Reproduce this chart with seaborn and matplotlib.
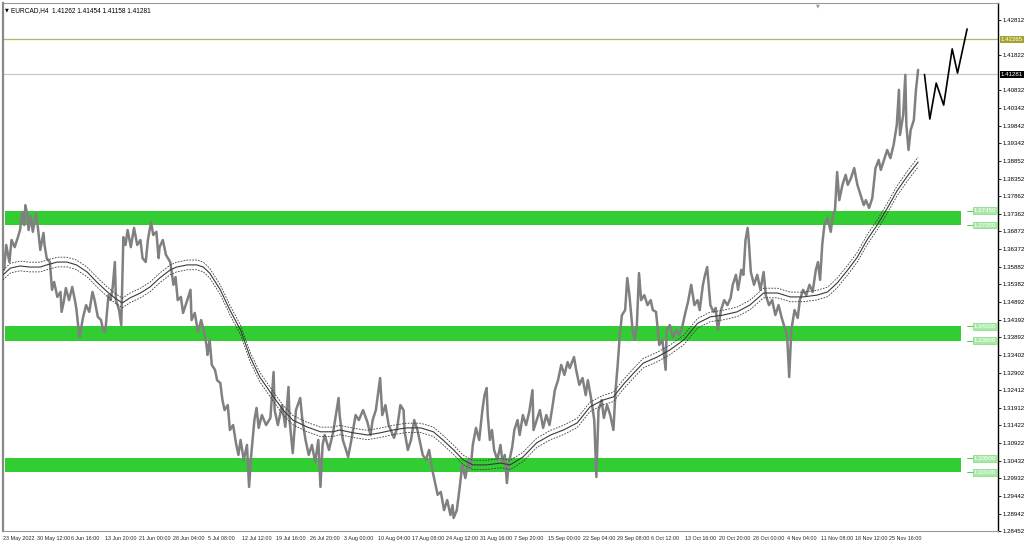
import seaborn as sns
import numpy as np
import matplotlib.pyplot as plt
from matplotlib.transforms import blended_transform_factory

# price path (bar index, price)
path_bar = [1, 3, 6, 8, 11, 14, 16, 18, 20, 21, 23, 24, 26, 28, 31, 33, 35, 38, 39, 41,
            44, 46, 48, 51, 54, 55, 57, 59, 62, 65, 68, 69, 71, 72, 75, 78, 81, 84, 86, 89,
            92, 94, 96, 99, 101, 103, 105, 106, 109, 111, 113, 115, 117, 120, 123, 126, 129, 131, 134, 136,
            139, 141, 144, 146, 147, 150, 153, 157, 160, 162, 164, 167, 169, 173, 176, 177, 180, 183, 186, 189,
            191, 192, 194, 196, 199, 201, 204, 206, 208, 211, 213, 216, 219, 221, 223, 226, 229, 231, 233, 236,
            238, 240, 243, 247, 251, 254, 255, 258, 262, 265, 268, 269, 272, 275, 279, 281, 284, 287, 290, 293,
            296, 298, 300, 302, 306, 310, 314, 315, 316, 319, 322, 324, 327, 331, 334, 338, 342, 345, 347, 350,
            354, 356, 359, 362, 364, 367, 370, 373, 376, 377, 380, 383, 386, 389, 392, 394, 397, 400, 403, 406,
            408, 411, 414, 417, 420, 422, 423, 426, 429, 431, 434, 437, 439, 441, 444, 447, 450, 452, 454, 455,
            457, 459, 461, 464, 467, 469, 471, 473, 475, 478, 480, 483, 485, 488, 491, 494, 497, 498, 501, 504,
            507, 510, 513, 516, 518, 521, 524, 527, 530, 532, 536, 538, 541, 544, 547, 549, 552, 555, 557, 559,
            562, 564, 567, 570, 573, 575, 577, 579, 581, 584, 586, 588, 591, 593, 595, 597, 599, 602, 605, 608,
            610, 613, 616, 619, 622, 623, 626, 629, 632, 635, 638, 640, 643, 646, 649, 652, 654, 657, 659, 661,
            664, 667, 669, 671, 674, 677, 680, 683, 685, 688, 690, 693, 695, 697, 699, 700, 702, 705, 708, 711,
            714, 716, 719, 722, 725, 728, 731, 733, 736, 738, 740, 743, 746, 748, 751, 754, 757, 760, 763, 765,
            767, 769, 771, 774, 777, 779, 781, 783, 785, 788, 791, 793, 796, 799, 802, 805, 808, 810, 813, 816,
            819, 822, 824, 827, 830, 833, 836, 839, 841, 842, 845, 847, 848, 850, 852, 855, 857, 859]
path_price = [1.3579, 1.3649, 1.3601, 1.3663, 1.3643, 1.3671, 1.3691, 1.3742, 1.3705, 1.3761,
              1.3733, 1.3691, 1.3730, 1.3686, 1.3739, 1.3691, 1.3635, 1.3683, 1.3649, 1.3612,
              1.3601, 1.3523, 1.3545, 1.3503, 1.3517, 1.3461, 1.3489, 1.3528, 1.3494, 1.3531,
              1.3486, 1.3466, 1.3410, 1.3390, 1.3444, 1.3480, 1.3461, 1.3517, 1.3494, 1.3447,
              1.3438, 1.3410, 1.3405, 1.3508, 1.3494, 1.3531, 1.3601, 1.3494, 1.3466, 1.3424,
              1.3671, 1.3649, 1.3691, 1.3643, 1.3697, 1.3649, 1.3663, 1.3612, 1.3601, 1.3663,
              1.3714, 1.3677, 1.3686, 1.3612, 1.3643, 1.3663, 1.3621, 1.3601, 1.3537, 1.3559,
              1.3494, 1.3503, 1.3458, 1.3494, 1.3523, 1.3438, 1.3458, 1.3405, 1.3438, 1.3402,
              1.3368, 1.3340, 1.3382, 1.3312, 1.3298, 1.3269, 1.3261, 1.3213, 1.3185, 1.3199,
              1.3129, 1.3143, 1.3087, 1.3059, 1.3101, 1.3045, 1.3087, 1.2969, 1.3059, 1.3157,
              1.3191, 1.3135, 1.3171, 1.3143, 1.3163, 1.3292, 1.3185, 1.3143, 1.3199, 1.3138,
              1.3250, 1.3157, 1.3064, 1.3185, 1.3219, 1.3157, 1.3101, 1.3059, 1.3087, 1.3039,
              1.3101, 1.2969, 1.3087, 1.3115, 1.3073, 1.3124, 1.3199, 1.3219, 1.3171, 1.3101,
              1.3073, 1.3053, 1.3101, 1.3171, 1.3157, 1.3185, 1.3152, 1.3115, 1.3157, 1.3185,
              1.3275, 1.3171, 1.3199, 1.3143, 1.3129, 1.3107, 1.3135, 1.3199, 1.3185, 1.3124,
              1.3073, 1.3101, 1.3157, 1.3129, 1.3087, 1.3059, 1.3045, 1.3073, 1.3017, 1.2975,
              1.2947, 1.2955, 1.2904, 1.2932, 1.2890, 1.2918, 1.2882, 1.2904, 1.2975, 1.3031,
              1.2994, 1.3045, 1.3022, 1.3087, 1.3135, 1.3101, 1.3185, 1.3227, 1.3247, 1.3171,
              1.3101, 1.3129, 1.3073, 1.3045, 1.3087, 1.3036, 1.3059, 1.2980, 1.3039, 1.3081,
              1.3129, 1.3157, 1.3115, 1.3171, 1.3143, 1.3180, 1.3241, 1.3129, 1.3157, 1.3185,
              1.3135, 1.3171, 1.3143, 1.3199, 1.3241, 1.3269, 1.3312, 1.3284, 1.3320, 1.3303,
              1.3334, 1.3298, 1.3256, 1.3275, 1.3227, 1.3269, 1.3219, 1.3157, 1.2997, 1.3185,
              1.3213, 1.3163, 1.3199, 1.3171, 1.3129, 1.3241, 1.3312, 1.3396, 1.3452, 1.3466,
              1.3556, 1.3508, 1.3410, 1.3382, 1.3424, 1.3570, 1.3494, 1.3508, 1.3480, 1.3494,
              1.3466, 1.3461, 1.3368, 1.3382, 1.3298, 1.3410, 1.3424, 1.3388, 1.3410, 1.3396,
              1.3424, 1.3452, 1.3489, 1.3537, 1.3480, 1.3494, 1.3466, 1.3537, 1.3565, 1.3587,
              1.3480, 1.3461, 1.3472, 1.3410, 1.3466, 1.3494, 1.3480, 1.3500, 1.3537, 1.3565,
              1.3523, 1.3579, 1.3565, 1.3663, 1.3697, 1.3663, 1.3573, 1.3537, 1.3565, 1.3523,
              1.3573, 1.3508, 1.3480, 1.3494, 1.3452, 1.3480, 1.3444, 1.3424, 1.3396, 1.3278,
              1.3410, 1.3466, 1.3444, 1.3494, 1.3523, 1.3508, 1.3537, 1.3517, 1.3579, 1.3601,
              1.3551, 1.3649, 1.3705, 1.3725, 1.3686, 1.3733, 1.3747, 1.3854, 1.3775, 1.3818,
              1.3846, 1.3818, 1.3837, 1.3865, 1.3818, 1.3789, 1.3761, 1.3775, 1.3753, 1.3781,
              1.3865, 1.3888, 1.3860, 1.3888, 1.3916, 1.3893, 1.3930, 1.3986, 1.4085, 1.3958,
              1.4014, 1.4127, 1.3986, 1.3916, 1.3972, 1.4000, 1.4085, 1.4141]

# moving average centre line
ma_bar = [0, 7, 16, 25, 35, 41, 51, 60, 69, 79, 88, 98, 105, 112, 119, 129, 138, 147, 157, 163,
          173, 182, 188, 194, 204, 213, 223, 232, 241, 254, 263, 272, 285, 298, 310, 316, 329, 342, 354, 366,
          379, 392, 404, 413, 423, 432, 441, 454, 467, 476, 488, 501, 514, 526, 539, 551, 563, 573, 582, 592,
          601, 614, 626, 639, 652, 664, 676, 689, 701, 714, 727, 739, 751, 764, 774, 783, 793, 802, 811, 821,
          830, 839, 849, 859]
ma_price = [1.3565, 1.3584, 1.3590, 1.3587, 1.3587, 1.3593, 1.3601, 1.3601, 1.3593, 1.3573,
            1.3545, 1.3517, 1.3500, 1.3486, 1.3500, 1.3514, 1.3531, 1.3556, 1.3579, 1.3587,
            1.3593, 1.3593, 1.3587, 1.3570, 1.3523, 1.3466, 1.3410, 1.3334, 1.3278, 1.3222,
            1.3185, 1.3157, 1.3138, 1.3124, 1.3124, 1.3129, 1.3121, 1.3115, 1.3121, 1.3129,
            1.3135, 1.3135, 1.3124, 1.3101, 1.3073, 1.3045, 1.3031, 1.3031, 1.3036, 1.3031,
            1.3053, 1.3093, 1.3115, 1.3129, 1.3149, 1.3194, 1.3213, 1.3222, 1.3256, 1.3289,
            1.3317, 1.3334, 1.3354, 1.3382, 1.3429, 1.3447, 1.3452, 1.3461, 1.3480, 1.3514,
            1.3514, 1.3503, 1.3503, 1.3508, 1.3517, 1.3542, 1.3579, 1.3615, 1.3663, 1.3707,
            1.3752, 1.3800, 1.3843, 1.3882]
envelope_pct = 0.001

# projected path (black zigzag)
proj_bar = [865, 870, 876, 883, 891, 896, 905]
proj_price = [1.4128, 1.4003, 1.4104, 1.4042, 1.4200, 1.4132, 1.4256]

# support / resistance zones
zones = [(1.37450, 1.37050), (1.34200, 1.33800), (1.30500, 1.30100)]
zone_start, zone_end = 2, 899

level_olive = 1.42265
level_last = 1.41281

y_ticks = [1.42812, 1.41822, 1.40832, 1.40342, 1.39842, 1.39342, 1.38852, 1.38352,
           1.37862, 1.37362, 1.36872, 1.36372, 1.35882, 1.35382, 1.34892, 1.34392,
           1.33892, 1.33402, 1.32902, 1.32412, 1.31912, 1.31422, 1.30922, 1.30432,
           1.29932, 1.29442, 1.28942, 1.28452]

x_labels = ['23 May 2022', '30 May 12:00', '6 Jun 16:00', '13 Jun 20:00', '21 Jun 00:00',
            '28 Jun 04:00', '5 Jul 08:00', '12 Jul 12:00', '19 Jul 16:00', '26 Jul 20:00',
            '3 Aug 00:00', '10 Aug 04:00', '17 Aug 08:00', '24 Aug 12:00', '31 Aug 16:00',
            '7 Sep 20:00', '15 Sep 00:00', '22 Sep 04:00', '29 Sep 08:00', '6 Oct 12:00',
            '13 Oct 16:00', '20 Oct 20:00', '28 Oct 00:00', '4 Nov 04:00', '11 Nov 08:00',
            '18 Nov 12:00', '25 Nov 16:00']
bars_per_label = 32

header = 'EURCAD,H4  1.41262 1.41454 1.41158 1.41281'

sns.set_style('white')
plt.rcParams['font.family'] = ['Liberation Sans Narrow', 'Liberation Sans', 'DejaVu Sans']
FS = 4.4

fig = plt.figure(figsize=(10.24, 5.44), dpi=100)
ax = fig.add_axes([3 / 1024, 13 / 544, 995 / 1024, 528 / 544])

# zones
for hi, lo in zones:
    ax.fill_between([zone_start, zone_end], lo, hi, color='#32cd32', lw=0, zorder=1)

ax.axhline(level_olive, color='#b5b56a', lw=0.9, zorder=1)
ax.axhline(level_last, color='#c8c8c8', lw=0.9, zorder=1)

# moving average + envelope
ma_bar_a = np.array(ma_bar)
ma_price_a = np.array(ma_price)
sns.lineplot(x=ma_bar_a, y=ma_price_a, color='#3a3a3a', lw=0.8, ax=ax, zorder=3)
for k in (1 + envelope_pct, 1 - envelope_pct):
    ax.plot(ma_bar_a, ma_price_a * k, color='#3a3a3a', lw=0.6, ls=(0, (2, 1.5)), zorder=3)

# price
sns.lineplot(x=path_bar, y=path_price, sort=False, estimator=None,
             color='#808080', lw=1.8, ax=ax, zorder=2)

# projection
sns.lineplot(x=proj_bar, y=proj_price, sort=False, estimator=None,
             color='black', lw=1.2, ax=ax, zorder=4)

ax.set_xlim(0, 934)
ax.set_ylim(1.28452, 1.43290)
ax.set_xlabel('')
ax.set_ylabel('')

# right price axis
ax.yaxis.tick_right()
ax.set_yticks(y_ticks)
ax.set_yticklabels([f'{v:.5f}' for v in y_ticks])
ax.tick_params(axis='y', labelsize=FS, length=2, width=0.6, pad=1.5, colors='black')

# bottom time axis
xt = [i * bars_per_label for i in range(len(x_labels))]
ax.set_xticks(xt)
ax.set_xticklabels(x_labels, ha='left')
ax.tick_params(axis='x', labelsize=3.9, length=2.5, width=0.6, pad=1.0, direction='out')

for side in ('top', 'bottom'):
    ax.spines[side].set_color('#999999')
    ax.spines[side].set_linewidth(0.8)
ax.spines['left'].set_color('#888888')
ax.spines['left'].set_linewidth(1.6)
ax.spines['right'].set_color('black')
ax.spines['right'].set_linewidth(1.0)

# zone edge labels
for hi, lo in zones:
    for v in (hi, lo):
        ax.plot([905, 911], [v, v], color='#32cd32', lw=0.6, zorder=5, clip_on=False)
        ax.text(911.5, v, f'{v:.5f}', fontsize=FS, color='white', va='center', ha='left',
                zorder=6, bbox=dict(boxstyle='square,pad=0.15', fc='#a9e8a9', ec='#7fd87f', lw=0.5))

# special price labels on the right axis
tr = blended_transform_factory(ax.transAxes, ax.transData)
ax.text(1.003, level_olive, f'{level_olive:.5f}', transform=tr, fontsize=FS, color='white',
        va='center', ha='left', zorder=7, clip_on=False,
        bbox=dict(boxstyle='square,pad=0.2', fc='#a3a32e', ec='none'))
ax.text(1.003, level_last, f'{level_last:.5f}', transform=tr, fontsize=FS, color='white',
        va='center', ha='left', zorder=7, clip_on=False,
        bbox=dict(boxstyle='square,pad=0.2', fc='black', ec='none'))

# header
ax.text(0.002, 0.992, '\u25bc', transform=ax.transAxes, fontsize=3.5, color='black', va='top', ha='left',
        family='DejaVu Sans')
ax.text(0.008, 0.993, header, transform=ax.transAxes, fontsize=FS + 0.3, color='black', va='top', ha='left')
ax.text(765, 1.4329, '\u25bc', fontsize=3.5, color='#999999', va='top', ha='center', family='DejaVu Sans')

fig.savefig('out.png', dpi=100)
